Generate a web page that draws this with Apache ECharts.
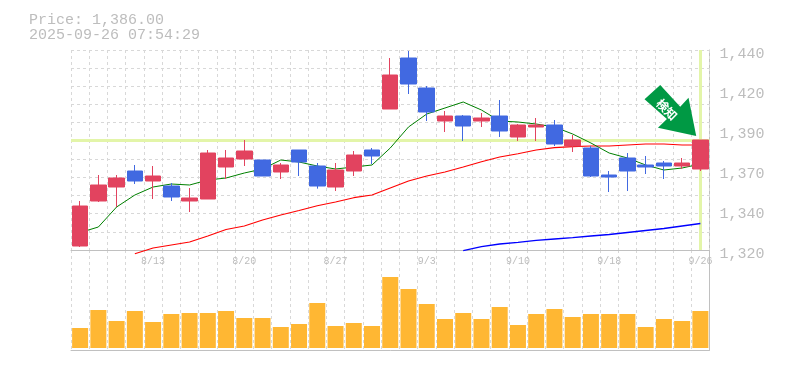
<!DOCTYPE html>
<html>
<head>
<meta charset="utf-8">
<style>html,body{margin:0;padding:0;background:#fff}#c{width:785px;height:370px}</style>
<script src="https://cdn.jsdelivr.net/npm/echarts@6/dist/echarts.min.js"></script>
</head>
<body>
<div id="c"></div>
<script>
const titleLines = ['Price: 1,386.00', '2025-09-26 07:54:29'];
const categories = ['8/6','8/7','8/8','8/12','8/13','8/14','8/15','8/18','8/19','8/20','8/21','8/22','8/25','8/26','8/27','8/28','8/29','9/1','9/2','9/3','9/4','9/5','9/8','9/9','9/10','9/11','9/12','9/16','9/17','9/18','9/19','9/22','9/24','9/25','9/26'];
const opens  = [1322.4,1349.4,1357.8,1367.4,1361.4,1358.4,1349.4,1350.6,1369.8,1374.6,1374,1366.8,1380,1370.4,1357.8,1367.4,1380,1404.6,1435.2,1417.2,1397.4,1400.4,1397.4,1400.4,1387.8,1393.8,1395,1382.4,1381.2,1365,1375.2,1371,1372.2,1370.4,1368.6];
const closes = [1346.4,1359,1363.2,1361.4,1364.4,1351.8,1351.2,1378.2,1375.2,1379.4,1364.4,1371,1372.8,1358.4,1368,1377,1376.4,1425,1419.6,1402.8,1400.4,1394.4,1399.2,1391.4,1395,1395,1383.6,1386,1364.4,1363.8,1367.4,1369.8,1370.4,1372.2,1386];
const lows   = [1321.8,1348.8,1345.8,1359.6,1350.6,1349.4,1342.8,1350.6,1362.6,1370.4,1364.4,1362.6,1364.4,1356.8,1355.4,1364.4,1371.6,1404.6,1413.6,1397.4,1390.8,1385.4,1393.8,1387.8,1385.4,1385.4,1382.4,1378.8,1363.8,1354.8,1355.4,1365.6,1362.6,1368.6,1367.4];
const highs  = [1349.4,1365,1365,1371,1370.4,1360.2,1357.2,1380,1380,1386,1374,1372.2,1380,1372.2,1372.2,1379.4,1381.2,1435.2,1439.4,1418.4,1403.4,1401,1402.2,1410,1395.6,1399.2,1398,1389,1382.4,1367.4,1378.2,1376.4,1373.4,1375.2,1386];
const maShort = [1330.5,1333.8,1345.8,1353,1357.8,1359.6,1359,1362,1363.2,1366.2,1368.6,1374,1372.8,1370.4,1368.6,1369.8,1371,1381.2,1393.8,1401.6,1405.2,1408.8,1404,1397.4,1396.8,1395.6,1393.8,1389.6,1384.2,1378.2,1375.2,1371,1368,1369.2,1371.6];
const maMid = [null,null,null,1317.8,1321.2,1323,1324.8,1328.4,1332.3,1334.4,1338,1341,1343.7,1346.6,1348.8,1351.4,1353,1357.2,1361.4,1364.4,1366.8,1369.8,1373,1375.8,1377.8,1380,1381.4,1382,1382.4,1382.4,1383,1383.6,1383.6,1383,1383];
const maLong = [null,null,null,null,null,null,null,null,null,null,null,null,null,null,null,null,null,null,null,null,null,1319.6,1322,1323.6,1324.6,1325.8,1326.6,1327.4,1328.4,1329.3,1330.5,1331.7,1332.9,1334.4,1335.9];
const volumes = [20,38,27,37,26,34,35,35,37,30,30,21,24,45,22,25,22,71,59,44,29,35,29,41,23,34,39,31,34,34,34,21,29,27,37];
const currentPrice = 1386;
const badgeText = '検知';

const RED = '#E2435F', BLUE = '#4169E1', GRID = '#d8d8d8', AXIS = '#c0c0c0', TEXT = '#bdbdbd';
const mono = '"Liberation Mono", "DejaVu Sans Mono", monospace';
const gridLine = {show:true, interval:0, lineStyle:{color:GRID, type:[3,3], width:1}};

const chart = echarts.init(document.getElementById('c'), null, {renderer:'canvas'});
chart.setOption({
  animation:false,
  backgroundColor:'#ffffff',
  title:{left:24, top:8, text:titleLines.join('\n'),
    textStyle:{color:TEXT, fontFamily:mono, fontSize:15, fontWeight:'normal', lineHeight:15}},
  grid:[
    {left:71, width:638.5, top:50, height:200},
    {left:71, width:638.5, top:250, height:100}
  ],
  xAxis:[
    {type:'category', gridIndex:0, data:categories, boundaryGap:true,
     axisLine:{show:true, onZero:false, lineStyle:{color:AXIS, width:1}}, axisTick:{show:false},
     axisLabel:{interval:(i)=>i%5===4, margin:6, color:TEXT, fontFamily:mono, fontSize:10, hideOverlap:false},
     splitLine:gridLine, z:1},
    {type:'category', gridIndex:1, data:categories, boundaryGap:true,
     axisLine:{show:true, onZero:false, lineStyle:{color:AXIS, width:1}}, axisTick:{show:false},
     axisLabel:{show:false}, splitLine:gridLine}
  ],
  yAxis:[
    {type:'value', gridIndex:0, position:'right', min:1320, max:1440, interval:24, scale:true,
     axisLine:{show:true, onZero:false, lineStyle:{color:AXIS, width:1}}, axisTick:{show:false},
     axisLabel:{margin:10, color:TEXT, fontFamily:mono, fontSize:15, verticalAlign:'top', lineHeight:9,
       formatter:(v)=>(Math.round(v/10)*10).toLocaleString('en-US')},
     splitLine:{show:false}},
    {type:'value', gridIndex:0, position:'right', min:0, max:11, interval:1,
     axisLine:{show:false}, axisTick:{show:false}, axisLabel:{show:false},
     splitLine:{show:true, lineStyle:{color:GRID, type:[3,3], width:1}}},
    {type:'value', gridIndex:1, position:'right', min:-2, max:98,
     axisLine:{show:true, onZero:false, lineStyle:{color:AXIS, width:1}}, axisTick:{show:false},
     axisLabel:{show:false}, splitLine:{show:false}}
  ],
  series:[
    {type:'line', name:'long', xAxisIndex:0, yAxisIndex:0, data:maLong, showSymbol:false, symbol:'none', clip:false, z:1,
     lineStyle:{color:'#0000ff', width:1.3},
     markLine:{z:1, silent:true, symbol:'none', animation:false, label:{show:false},
       lineStyle:{color:'#E3F5A9', width:3, type:'solid'},
       data:[{yAxis:currentPrice},{xAxis:categories[categories.length-1]}]}},
    {type:'line', name:'mid', xAxisIndex:0, yAxisIndex:0, data:maMid, showSymbol:false, symbol:'none', clip:false, z:2,
     lineStyle:{color:'#ff0000', width:1.1}},
    {type:'line', name:'short', xAxisIndex:0, yAxisIndex:0, data:maShort, showSymbol:false, symbol:'none', clip:false, z:2,
     lineStyle:{color:'#008000', width:1}},
    {type:'candlestick', xAxisIndex:0, yAxisIndex:0, z:3, barWidth:16, clip:false,
     data:categories.map((_,i)=>[opens[i],closes[i],lows[i],highs[i]]),
     itemStyle:{color:RED, color0:BLUE, borderColor:RED, borderColor0:BLUE, borderWidth:1},
     markPoint:{silent:true, animation:false, z:6,
       data:[{coord:[categories[categories.length-1], currentPrice],
         symbol:'path://M0 14.3 L15.7 0 L35.7 21.7 L44 12.7 L51.7 51 L13.4 42.7 L22.4 34 Z',
         symbolSize:[51.7,51], symbolOffset:[-30,-29.5],
         itemStyle:{color:'#009944'},
         label:{show:true, position:'inside', formatter:badgeText, color:'#fff', rotate:-45,
           fontFamily:'"Noto Sans CJK JP"', fontSize:12, fontWeight:'bold', offset:[-3.2,1.8]}}]}},
    {type:'bar', xAxisIndex:1, yAxisIndex:2, data:volumes, barWidth:16, itemStyle:{color:'#FFB733'}}
  ]
});
</script>
</body>
</html>
